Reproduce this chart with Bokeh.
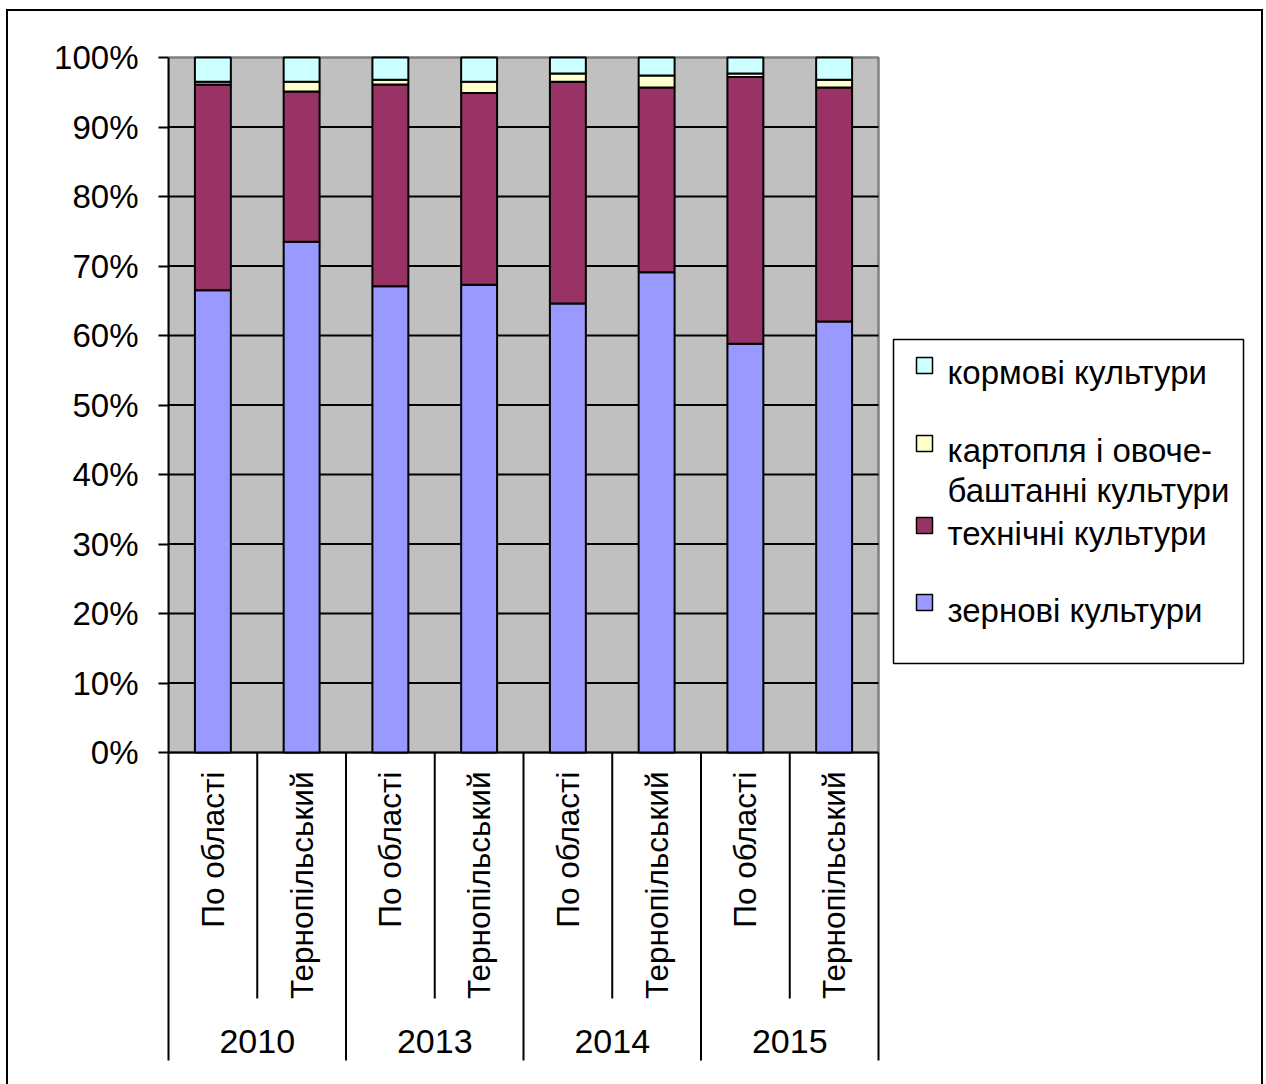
import numpy as np
from bokeh.plotting import figure
from bokeh.models import ColumnDataSource, Range1d, FixedTicker, PrintfTickFormatter
from bokeh.core.properties import value
from bokeh.embed import file_html
from bokeh.resources import INLINE

# ---- data: shares of sown area by crop group (%) ----
years = ["2010", "2013", "2014", "2015"]
regions = ["По області", "Тернопільський"]
grain = [66.5, 73.5, 67.1, 67.3, 64.6, 69.1, 58.8, 62.0]
industrial = [29.6, 21.6, 29.0, 27.6, 31.9, 26.6, 38.4, 33.7]
potato_veg = [0.4, 1.4, 0.7, 1.6, 1.2, 1.7, 0.5, 1.1]
fodder = [3.5, 3.5, 3.2, 3.5, 2.3, 2.6, 2.3, 3.2]

series_names = ["зернові культури", "технічні культури",
                "картопля і овоче-баштанні культури", "кормові культури"]
series_colors = ["#9999FF", "#993366", "#FFFFCC", "#CCFFFF"]
y_ticks = list(range(0, 101, 10))

FONT = "Liberation Sans"

# ---- layout (page pixels) ----
CANVAS_X0, CANVAS_Y0 = 8, 11          # canvas origin on the page
W, H = 1257, 1075                     # canvas size
AREA_LEFT, AREA_RIGHT = 168, 878      # plot area
AREA_TOP, AREA_BOTTOM = 57, 752
n_cat = len(years) * len(regions)
PX_PER_X = (AREA_RIGHT - AREA_LEFT) / n_cat
PX_PER_Y = (AREA_BOTTOM - AREA_TOP) / 100.0


def dx(px):
    return (px - AREA_LEFT) / PX_PER_X


def dy(py):
    return (AREA_BOTTOM - py) / PX_PER_Y


x_range = Range1d(dx(AREA_LEFT), dx(CANVAS_X0 + W))
y_range = Range1d(dy(CANVAS_Y0 + H), dy(CANVAS_Y0))

p = figure(width=W, height=H, x_range=x_range, y_range=y_range,
           output_backend="svg", toolbar_location=None,
           x_axis_location=None,
           min_border_left=AREA_LEFT - CANVAS_X0, min_border_right=0,
           min_border_top=0, min_border_bottom=0)
p.styles = {"border-top": "2px solid black", "border-left": "2px solid black",
            "border-right": "2px solid black", "margin-left": "6px",
            "margin-top": "9px"}
p.outline_line_color = None
p.xgrid.visible = False
p.ygrid.visible = False
p.background_fill_color = "white"
p.border_fill_color = "white"

# y axis (its line continues down as the first category separator)
ax = p.yaxis[0]
ax.ticker = FixedTicker(ticks=y_ticks)
ax.formatter = PrintfTickFormatter(format="%d%%")
ax.bounds = (dy(1060), 100)
ax.axis_line_color = "black"
ax.axis_line_width = 2
ax.major_tick_line_color = "black"
ax.major_tick_line_width = 2
ax.major_tick_out = 10
ax.major_tick_in = 0
ax.minor_tick_out = 0
ax.minor_tick_in = 0
ax.major_label_standoff = 20
ax.major_label_text_font = FONT
ax.major_label_text_font_size = "33px"
ax.major_label_text_color = "black"

# plot area background and grid lines
p.quad(left=0, right=n_cat, bottom=0, top=100, fill_color="#C0C0C0",
       line_color="#808080", line_width=2.5)
grid_vals = y_ticks[:-1]
p.segment(x0=[0] * len(grid_vals), x1=[n_cat] * len(grid_vals),
          y0=grid_vals, y1=grid_vals, line_color="black", line_width=2)

# stacked bars (normalised to 100%)
totals = np.array(grain) + np.array(industrial) + np.array(potato_veg) + np.array(fodder)
xs = np.arange(n_cat) + 0.5
src = ColumnDataSource(dict(
    x=xs,
    grain=np.array(grain) / totals * 100,
    industrial=np.array(industrial) / totals * 100,
    potato_veg=np.array(potato_veg) / totals * 100,
    fodder=np.array(fodder) / totals * 100,
))
p.vbar_stack(["grain", "industrial", "potato_veg", "fodder"], x="x", width=0.405,
             source=src, color=series_colors, line_color="black", line_width=2)

# category axis: separators and labels
sub_sep = [1, 3, 5, 7]
grp_sep = [2, 4, 6, 8]
p.segment(x0=sub_sep, x1=sub_sep, y0=[0] * 4, y1=[dy(998)] * 4,
          line_color="black", line_width=2)
p.segment(x0=grp_sep, x1=grp_sep, y0=[0] * 4, y1=[dy(1060)] * 4,
          line_color="black", line_width=2)

cat_labels = [r for _ in years for r in regions]
p.text(x=xs, y=[dy(771)] * n_cat, text=cat_labels, angle=np.pi / 2,
       text_align="right", text_baseline="middle", text_font=value(FONT),
       text_font_size="31.5px", text_color="black")
p.text(x=[1, 3, 5, 7], y=[dy(1041)] * 4, text=years, text_align="center",
       text_baseline="middle", text_font=value(FONT), text_font_size="34px",
       text_color="black")

# legend
LEG_L, LEG_R, LEG_T, LEG_B = 893, 1243, 339, 663
p.quad(left=[dx(LEG_L)], right=[dx(LEG_R)], top=[dy(LEG_T)], bottom=[dy(LEG_B)],
       fill_color="white", line_color="black", line_width=1.5)
leg_order = [3, 2, 1, 0]
sw_y = [365, 443, 525, 602]
sw = 16
p.rect(x=[dx(924)] * 4, y=[dy(v) for v in sw_y], width=sw / PX_PER_X,
       height=sw / PX_PER_Y, fill_color=[series_colors[i] for i in leg_order],
       line_color="black", line_width=1.5)
leg_lines = ["кормові культури", "картопля і овоче-", "баштанні культури",
             "технічні культури", "зернові культури"]
leg_base = [372, 450, 490, 533, 610]
p.text(x=[dx(947)] * 5, y=[dy(v) for v in leg_base], text=leg_lines,
       text_align="left", text_baseline="alphabetic", text_font=value(FONT),
       text_font_size="33px", text_color="black")

open("out.html", "w").write(file_html(p, INLINE))
